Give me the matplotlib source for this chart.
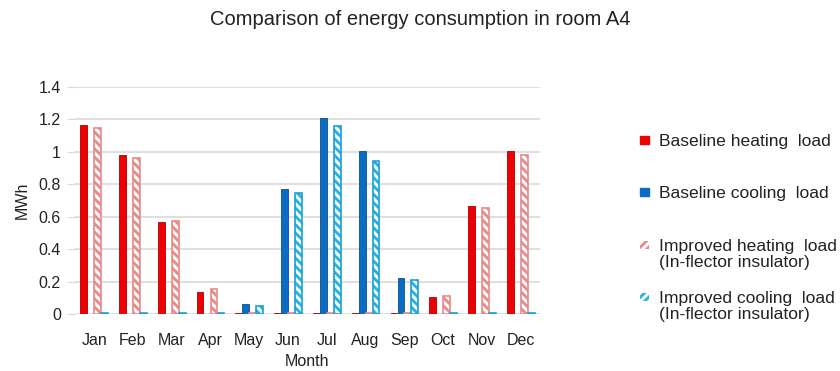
import matplotlib
matplotlib.use("Agg")
import matplotlib.pyplot as plt
import matplotlib.patches as mpatches
import numpy as np

plt.rcParams['font.family'] = ['Liberation Sans', 'DejaVu Sans']
plt.rcParams['hatch.linewidth'] = 2.2

months = ["Jan", "Feb", "Mar", "Apr", "May", "Jun", "Jul", "Aug", "Sep", "Oct", "Nov", "Dec"]
baseline_heating = [1.165, 0.978, 0.565, 0.138, 0.004, 0.004, 0.004, 0.004, 0.004, 0.104, 0.666, 1.007]
baseline_cooling = [0.003, 0.003, 0.003, 0.003, 0.062, 0.768, 1.210, 1.004, 0.222, 0.003, 0.003, 0.003]
improved_heating = [1.145, 0.965, 0.573, 0.157, 0.004, 0.004, 0.004, 0.004, 0.004, 0.108, 0.655, 0.983]
improved_cooling = [0.006, 0.006, 0.006, 0.006, 0.050, 0.748, 1.160, 0.946, 0.207, 0.006, 0.006, 0.006]

series_labels = ["Baseline heating  load", "Baseline cooling  load",
                 "Improved heating  load\n(In-flector insulator)",
                 "Improved cooling  load\n(In-flector insulator)"]

red = "#f00000"
red_edge = "#b00000"
blue = "#0b6cc4"
blue_edge = "#064f94"
pink = "#e88a8a"
cyan = "#1fb3e8"
cyan_edge = "#1a9fd6"
text_color = "#222222"

W, H = 840, 371
fig = plt.figure(figsize=(W / 100, H / 100), dpi=100)
ax = fig.add_axes([0.089, 0.1536, 0.554, 0.612])

x = np.arange(len(months))
w = 0.175
offs = [-0.27, -0.09, 0.09, 0.27]

ax.bar(x + offs[0], baseline_heating, w, color=red, edgecolor=red_edge, linewidth=0.6, zorder=3)
ax.bar(x + offs[1], baseline_cooling, w, color=blue, edgecolor=blue_edge, linewidth=0.6, zorder=3)
# hatched bars: coloured fill with white stripes, then coloured outline
ax.bar(x + offs[2], improved_heating, w, color=pink, edgecolor="white", hatch="\\\\\\\\", linewidth=0, zorder=3)
ax.bar(x + offs[2], improved_heating, w, fill=False, edgecolor=pink, linewidth=1.2, zorder=4)
ax.bar(x + offs[3], improved_cooling, w, color=cyan, edgecolor="white", hatch="\\\\\\\\", linewidth=0, zorder=3)
ax.bar(x + offs[3], improved_cooling, w, fill=False, edgecolor=cyan_edge, linewidth=1.2, zorder=4)

ax.set_xlim(-0.5, 11.5)
ax.set_ylim(0, 1.4)
ax.set_yticks(np.arange(0, 1.41, 0.2))
ax.set_yticklabels(["0", "0.2", "0.4", "0.6", "0.8", "1", "1.2", "1.4"])
ax.set_xticks(x)
ax.set_xticklabels(months)
ax.yaxis.grid(True, color="#d9d9d9", linewidth=1.2, zorder=0)
ax.set_axisbelow(True)
for s in ax.spines.values():
    s.set_visible(False)
ax.tick_params(axis="x", length=0, labelsize=11.5, pad=14, colors=text_color)
ax.tick_params(axis="y", length=6, color="#d9d9d9", labelsize=11.5, pad=4, colors=text_color)
ax.set_xlabel("Month", fontsize=11.5, labelpad=4, color=text_color)
ax.set_ylabel("MWh", fontsize=11.5, labelpad=6, color=text_color)

fig.text(0.5, 0.948, "Comparison of energy consumption in room A4", ha="center", va="center",
         fontsize=14.5, color=text_color)

# legend drawn manually to reproduce the original entry spacing
legend_styles = [
    dict(facecolor=red, edgecolor=red),
    dict(facecolor=blue, edgecolor=blue),
    dict(facecolor=pink, edgecolor="white", hatch="////", linewidth=0),
    dict(facecolor=cyan, edgecolor="white", hatch="////", linewidth=0),
]
first_line_y = [140, 192, 245, 297]
line_h = 17.5
sq = 8.5
for label, style, yy in zip(series_labels, legend_styles, first_line_y):
    rect = mpatches.Rectangle((640 / W, 1 - (yy + sq / 2) / H), sq / W, sq / H,
                              transform=fig.transFigure, **style)
    fig.patches.append(rect)
    fig.text(659 / W, 1 - (yy - line_h / 2 + 3) / H, label, ha="left", va="top",
             fontsize=12.6, color=text_color, linespacing=1.05)

fig.savefig("out.png", dpi=100)
